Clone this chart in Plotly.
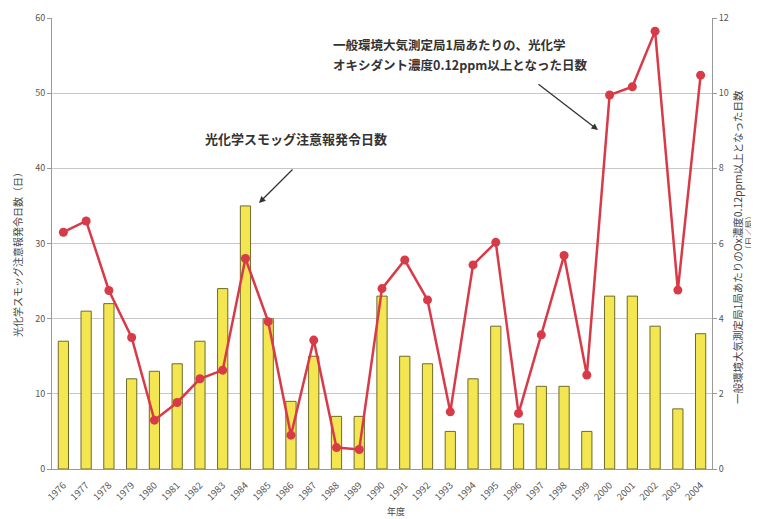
import plotly.graph_objects as go

years = [str(y) for y in range(1976, 2005)]
alert_days = [17, 21, 22, 12, 13, 14, 17, 24, 35, 20, 9, 15, 7, 7, 23,
              15, 14, 5, 12, 19, 6, 11, 11, 5, 23, 23, 19, 8, 18]
ox_days = [6.3, 6.6, 4.75, 3.5, 1.3, 1.77, 2.4, 2.63, 5.6, 3.92, 0.9, 3.43, 0.57, 0.52, 4.8,
           5.56, 4.5, 1.52, 5.43, 6.03, 1.48, 3.57, 5.68, 2.5, 9.95, 10.17, 11.65, 4.76, 10.48]
left_ticks = [0, 10, 20, 30, 40, 50, 60]
right_ticks = [0, 2, 4, 6, 8, 10, 12]

FONT = "Noto Sans CJK JP"

fig = go.Figure()
fig.add_trace(go.Bar(
    x=years, y=alert_days, width=0.45,
    marker=dict(color="#f3e650", line=dict(color="#6e6a2c", width=1)),
    name="光化学スモッグ注意報発令日数", yaxis="y"))
fig.add_trace(go.Scatter(
    x=years, y=ox_days, mode="lines+markers",
    line=dict(color="#d83a48", width=2.5),
    marker=dict(color="#d83a48", size=9),
    name="Ox", yaxis="y2"))

# page body has an 8px default margin: figure sized so plot area lands at x 52..712, y 18..469
fig.update_layout(
    width=751, height=511,
    margin=dict(l=44, r=47, t=10, b=50),
    paper_bgcolor="white", plot_bgcolor="white",
    showlegend=False,
    font=dict(family=FONT, size=9, color="#555"),
    xaxis=dict(type="category", range=[-0.5, len(years) - 0.5], tickangle=-45,
               tickfont=dict(size=9.5, color="#555"),
               showgrid=False, showline=True, linecolor="#999", linewidth=1,
               ticks="outside", ticklen=6, tickcolor="rgba(0,0,0,0)", automargin=False),
    yaxis=dict(range=[0, 60], tickvals=left_ticks, showgrid=True, gridcolor="#c8c8c8",
               gridwidth=1, showline=True, linecolor="#999", ticks="outside",
               ticklen=4, tickcolor="#999", zeroline=False, automargin=False,
               tickfont=dict(size=9, color="#555")),
    yaxis2=dict(range=[0, 12], tickvals=right_ticks, overlaying="y", side="right",
                showgrid=False, showline=True, linecolor="#999", ticks="outside",
                ticklen=4, tickcolor="#999", zeroline=False, automargin=False,
                tickfont=dict(size=9, color="#555")),
)

def px(xp, yp):
    return (xp - 52) / 660.0, (469 - yp) / 451.0

def note(text, xp, yp, size, color="#444", angle=0, xanchor="center"):
    x0, y0 = px(xp, yp)
    return dict(text=text, x=x0, y=y0, xref="paper", yref="paper", textangle=angle,
                xanchor=xanchor, yanchor="middle",
                showarrow=False, font=dict(size=size, color=color))

anns = [
    note("光化学スモッグ注意報発令日数（日）", 18, 252, 10, angle=-90),
    note("一般環境大気測定局1局あたりのOx濃度0.12ppm以上となった日数", 737, 247, 10.5, angle=-90),
    note("（日／局）", 748, 232, 8.5, angle=-90),
    note("年度", 396, 512, 9),
    note("<b>光化学スモッグ注意報発令日数</b>", 296, 138, 13, color="#333"),
    note("<b>一般環境大気測定局1局あたりの、光化学</b>", 331, 45, 12.5, color="#333", xanchor="left"),
    note("<b>オキシダント濃度0.12ppm以上となった日数</b>", 331, 64, 12.5, color="#333", xanchor="left"),
]
x0, y0 = px(259, 203)
anns.append(dict(text="", x=x0, y=y0, xref="paper", yref="paper", showarrow=True,
                 ax=35, ay=-35, arrowhead=2, arrowsize=1, arrowwidth=1.3, arrowcolor="#333"))
x0, y0 = px(598, 130)
anns.append(dict(text="", x=x0, y=y0, xref="paper", yref="paper", showarrow=True,
                 ax=-61, ay=-47, arrowhead=2, arrowsize=1, arrowwidth=1.3, arrowcolor="#333"))
fig.update_layout(annotations=anns)

fig.write_html("out.html")
